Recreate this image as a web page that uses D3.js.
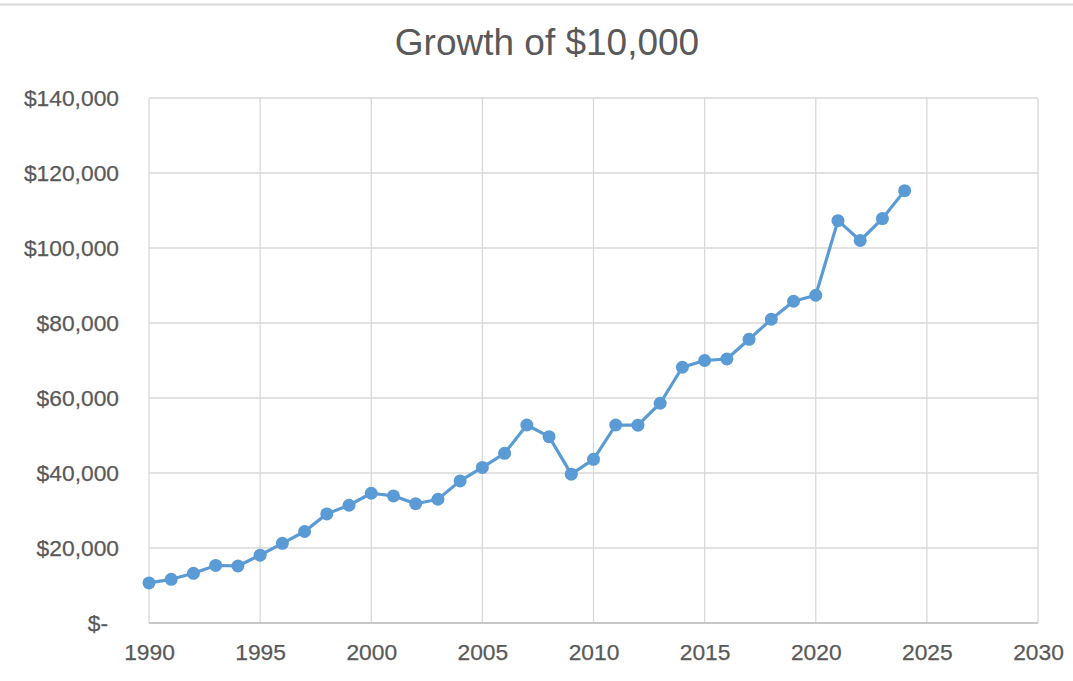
<!DOCTYPE html>
<html>
<head>
<meta charset="utf-8">
<script src="https://cdn.jsdelivr.net/npm/d3@7"></script>
<style>
  body { margin: 0; background: #fff; }
  svg { display: block; font-family: "Liberation Sans", Arial, sans-serif; }
  .grid line { stroke: #d9d9d9; stroke-width: 1.3; }
  .axis text { fill: #595959; font-size: 22.8px; stroke: #595959; stroke-width: 0.25; }
</style>
</head>
<body>
<svg id="chart" width="1073" height="681"></svg>
<script>
// data
var years  = [1990, 1991, 1992, 1993, 1994, 1995, 1996, 1997, 1998, 1999,
              2000, 2001, 2002, 2003, 2004, 2005, 2006, 2007, 2008, 2009,
              2010, 2011, 2012, 2013, 2014, 2015, 2016, 2017, 2018, 2019,
              2020, 2021, 2022, 2023, 2024];
var values = [10700, 11650, 13250, 15350, 15200, 18100, 21250, 24400, 29100, 31400,
              34600, 33900, 31800, 33000, 37900, 41500, 45250, 52800, 49700, 39700,
              43650, 52800, 52750, 58600, 68200, 70000, 70400, 75650, 81000, 85800,
              87400, 107300, 102000, 107850, 115300];
var xTicks = [1990, 1995, 2000, 2005, 2010, 2015, 2020, 2025, 2030];
var yTicks = [0, 20000, 40000, 60000, 80000, 100000, 120000, 140000];
var title  = "Growth of $10,000";

var margin = {top: 98, right: 35, bottom: 58, left: 149},
    width  = 1073 - margin.left - margin.right,
    height = 681 - margin.top - margin.bottom;

var svg = d3.select("#chart");

// thin border line at the very top
svg.append("line")
   .attr("x1", 0).attr("x2", 1073)
   .attr("y1", 4.5).attr("y2", 4.5)
   .attr("stroke", "#d9d9d9").attr("stroke-width", 2);

svg.append("text")
   .attr("x", 547).attr("y", 55)
   .attr("text-anchor", "middle")
   .attr("fill", "#595959")
   .style("font-size", "37px")
   .text(title);

var g = svg.append("g")
           .attr("transform", "translate(" + margin.left + "," + margin.top + ")");

var xscale = d3.scaleLinear().domain([1990, 2030]).range([0, width]);
var yscale = d3.scaleLinear().domain([0, 140000]).range([height, 0]);

// gridlines
g.append("g").attr("class", "grid")
 .selectAll("line").data(yTicks).join("line")
 .attr("x1", 0).attr("x2", width)
 .attr("y1", function(d) { return yscale(d); })
 .attr("y2", function(d) { return yscale(d); });

g.append("g").attr("class", "grid")
 .selectAll("line").data(xTicks).join("line")
 .attr("y1", 0).attr("y2", height)
 .attr("x1", function(d) { return xscale(d); })
 .attr("x2", function(d) { return xscale(d); });

// bottom axis line
g.append("line")
 .attr("x1", 0).attr("x2", width)
 .attr("y1", height).attr("y2", height)
 .attr("stroke", "#bfbfbf").attr("stroke-width", 1.5);

// axes (labels only)
var fmt = d3.format("$,");
var yAxis = g.append("g").attr("class", "axis")
  .call(d3.axisLeft(yscale).tickValues(yTicks).tickSize(0).tickPadding(30)
        .tickFormat(function(d) { return d === 0 ? "$-" : fmt(d); }));
yAxis.select(".domain").remove();
yAxis.selectAll(".tick text")
     .attr("dx", function(d) { return d === 0 ? -11 : 0; });

var xAxis = g.append("g").attr("class", "axis")
  .attr("transform", "translate(0," + height + ")")
  .call(d3.axisBottom(xscale).tickValues(xTicks).tickSize(0).tickPadding(21)
        .tickFormat(d3.format("d")));
xAxis.select(".domain").remove();

// the series
var data = years.map(function(y, i) { return {year: y, value: values[i]}; });

var line = d3.line()
  .x(function(d) { return xscale(d.year); })
  .y(function(d) { return yscale(d.value); });

g.append("path").datum(data)
 .attr("d", line)
 .attr("fill", "none")
 .attr("stroke", "#5b9bd5")
 .attr("stroke-width", 3.2)
 .attr("stroke-linejoin", "round");

g.append("g").selectAll("circle").data(data).join("circle")
 .attr("cx", function(d) { return xscale(d.year); })
 .attr("cy", function(d) { return yscale(d.value); })
 .attr("r", 6.5)
 .attr("fill", "#5b9bd5");
</script>
</body>
</html>
